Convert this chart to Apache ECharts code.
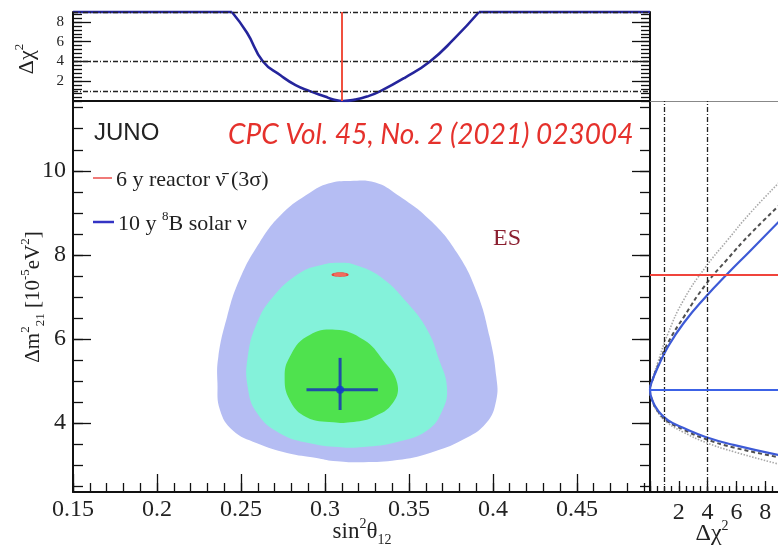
<!DOCTYPE html>
<html>
<head>
<meta charset="utf-8">
<script src="https://cdn.jsdelivr.net/npm/echarts@6/dist/echarts.min.js"></script>
<style>
  html, body { margin: 0; padding: 0; background: #fff; }
  #c { width: 778px; height: 552px; }
</style>
</head>
<body>
<div id="c"></div>
<script>
// ---- axis ranges and tick labels ----
const SIN_MIN = 0.15, SIN_MAX = 0.4935;   // sin^2(theta12)
const DM_MIN = 2.36, DM_MAX = 11.66;      // dm^2_21 [1e-5 eV^2]
const TOP_MAX = 9;                        // delta chi^2 (top panel)
const SIDE_MAX = 10;                      // delta chi^2 (side panel)

const sinTicks = [0.15, 0.2, 0.25, 0.3, 0.35, 0.4, 0.45];
const dmTicks = [4, 6, 8, 10];
const chi2TopTicks = [2, 4, 6, 8];
const chi2SideTicks = [2, 4, 6, 8];
const chi2TopLevels = [1, 4, 9];
const chi2SideLevels = [1, 4];

// ---- best fits ----
const reactorBest = [0.309, 7.53];        // 6 y reactor anti-nu
const reactorHalf = [0.0045, 0.05];       // half extent of its 3 sigma region
const solarBest = [0.309, 4.79];          // 10 y 8B solar nu
const solarSinBar = [0.289, 0.3315];
const solarDmBar = [4.31, 5.55];

// ---- delta chi^2 profile vs sin^2(theta12) ----
const sinProfile = [
  [0.2446, 9], [0.2536, 6.9], [0.2631, 4.0], [0.2735, 2.6], [0.2825, 1.6], [0.291, 1.0],
  [0.300, 0.45], [0.305, 0.15], [0.311, 0], [0.318, 0.14], [0.325, 0.45], [0.333, 1.0],
  [0.3475, 2.35], [0.3625, 4.0], [0.377, 6.3], [0.3917, 9]
];
// the profile runs along the top edge where it exceeds the frame
const sinProfileCapLeft = [[0.15, 9], [0.2446, 9]];
const sinProfileCapRight = [[0.3917, 9], [0.4935, 9]];

// ---- allowed regions (sin^2, dm^2) ----
const region3 = [
  [0.315, 9.76], [0.330, 9.72], [0.343, 9.43], [0.3625, 8.83], [0.3786, 8.05], [0.3905, 7.1],
  [0.398, 6.05], [0.402, 5.1], [0.402, 4.55], [0.396, 4.0], [0.382, 3.6], [0.3625, 3.29],
  [0.343, 3.12], [0.323, 3.07], [0.305, 3.1], [0.295, 3.17], [0.2774, 3.29], [0.2595, 3.52],
  [0.245, 3.83], [0.2375, 4.31], [0.236, 4.95], [0.2365, 5.57], [0.2417, 6.52], [0.249, 7.4],
  [0.261, 8.29], [0.275, 9.0], [0.291, 9.48], [0.302, 9.7]
];
const region2 = [
  [0.309, 7.81], [0.318, 7.76], [0.333, 7.48], [0.349, 6.86], [0.361, 6.21], [0.368, 5.5],
  [0.3726, 4.86], [0.370, 4.31], [0.361, 3.83], [0.343, 3.55], [0.323, 3.43], [0.311, 3.42],
  [0.291, 3.52], [0.273, 3.76], [0.2595, 4.24], [0.254, 4.86], [0.254, 5.57], [0.2595, 6.38],
  [0.269, 7.0], [0.285, 7.57], [0.298, 7.76]
];
const region1 = [
  [0.306, 6.22], [0.323, 5.98], [0.3345, 5.5], [0.343, 4.95], [0.3405, 4.48], [0.3286, 4.14],
  [0.315, 4.02], [0.305, 4.02], [0.289, 4.14], [0.279, 4.55], [0.276, 5.1], [0.279, 5.57],
  [0.289, 6.05]
];

// ---- delta chi^2 profiles vs dm^2 (side panel), [chi2, dm2] ----
const dmProfileSolid = [
  [9.2, 3.22], [5.8, 3.48], [3.86, 3.67], [2.34, 3.88], [1.24, 4.07], [0.55, 4.3], [0.15, 4.55],
  [0, 4.79], [0.15, 5.0], [0.55, 5.33], [1.24, 5.81], [2.34, 6.38], [3.86, 7.0], [5.38, 7.55],
  [6.97, 8.1], [9.2, 8.88]
];
const dmProfileDashed = [
  [9.2, 3.17], [5.8, 3.42], [3.86, 3.62], [2.34, 3.84], [1.24, 4.04], [0.55, 4.28], [0.15, 4.55],
  [0, 4.79], [0.15, 5.0], [0.55, 5.36], [1.24, 5.9], [2.34, 6.52], [3.86, 7.29], [5.38, 7.9],
  [6.97, 8.5], [9.2, 9.25]
];
const dmProfileDotted = [
  [9.2, 3.0], [5.8, 3.32], [3.86, 3.54], [2.34, 3.78], [1.24, 4.0], [0.55, 4.25], [0.15, 4.53],
  [0, 4.79], [0.15, 5.02], [0.55, 5.45], [1.24, 6.12], [2.34, 6.93], [3.86, 7.71], [5.38, 8.35],
  [6.97, 9.0], [9.2, 9.8]
];

// ---- styling ----
const SERIF = 'Liberation Serif';
const INK = '#111';
const NAVY = '#25259c';

function steps(a, b, s) {
  const out = [];
  for (let v = a; v <= b + 1e-9; v += s) out.push(+v.toFixed(4));
  return out;
}

function axis(o) {
  return {
    type: 'value', gridIndex: o.grid, min: o.min, max: o.max, position: o.pos,
    axisLine: { show: !!o.line, onZero: false, lineStyle: { color: o.lineColor || INK, width: o.line || 1 } },
    axisTick: { show: !!o.ticks, inside: true, length: o.tickLen || 0, customValues: o.ticks,
                lineStyle: { color: INK, width: 1.3 } },
    axisLabel: { show: !!o.labels, customValues: o.labels, margin: o.margin || 6,
                 fontFamily: SERIF, fontSize: o.labelSize || 24, color: '#222',
                 formatter: v => String(v) },
    splitLine: { show: false }, splitArea: { show: false }
  };
}

const chart = echarts.init(document.getElementById('c'));

function regionSeries(points, color) {
  return {
    type: 'custom', xAxisIndex: 1, yAxisIndex: 4, clip: true, silent: true, z: 2,
    data: [points[0]],
    renderItem: (params, api) => ({
      type: 'polygon',
      shape: { points: points.map(p => api.coord(p)), smooth: 0.45 },
      style: { fill: color }
    })
  };
}

function sideProfile(points, color, type, width) {
  return {
    type: 'line', xAxisIndex: 4, yAxisIndex: 8, data: points, showSymbol: false, symbol: 'none',
    smooth: 0.5, clip: true, z: 4,
    lineStyle: { color: color, type: type, width: width }
  };
}

function topSegment(points) {
  return {
    type: 'line', xAxisIndex: 0, yAxisIndex: 0, data: points, symbol: 'none', showSymbol: false,
    clip: false, z: 4, lineStyle: { color: NAVY, width: 2.6 }
  };
}

const dashStyle = { color: '#222', type: [5, 2, 1, 2], width: 1.3 };

const option = {
  animation: false,
  backgroundColor: '#fff',
  grid: [
    { left: 73, top: 12, width: 577, height: 89, containLabel: false, outerBoundsMode: 'none' },
    { left: 73, top: 101, width: 577, height: 391, containLabel: false, outerBoundsMode: 'none' },
    { left: 650, top: 101, width: 144, height: 391, containLabel: false, outerBoundsMode: 'none' }
  ],
  xAxis: [
    axis({ grid: 0, min: SIN_MIN, max: SIN_MAX, pos: 'bottom' }),
    axis({ grid: 1, min: SIN_MIN, max: SIN_MAX, pos: 'bottom', line: 2, ticks: sinTicks, tickLen: 18,
           labels: sinTicks, margin: 6 }),
    axis({ grid: 1, min: SIN_MIN, max: SIN_MAX, pos: 'bottom', ticks: steps(0.15, 0.49, 0.01), tickLen: 9 }),
    axis({ grid: 1, min: SIN_MIN, max: SIN_MAX, pos: 'top', line: 2 }),
    axis({ grid: 2, min: 0, max: SIDE_MAX, pos: 'bottom', line: 2, ticks: [0, 2, 4, 6, 8, 10], tickLen: 11,
           labels: chi2SideTicks, margin: 9 }),
    axis({ grid: 2, min: 0, max: SIDE_MAX, pos: 'bottom', ticks: steps(0, 10, 0.5), tickLen: 6 }),
    axis({ grid: 2, min: 0, max: SIDE_MAX, pos: 'top', line: 1, lineColor: '#888' })
  ],
  yAxis: [
    axis({ grid: 0, min: 0, max: TOP_MAX, pos: 'left', line: 2, ticks: chi2TopTicks, tickLen: 18,
           labels: chi2TopTicks, labelSize: 15, margin: 9 }),
    axis({ grid: 0, min: 0, max: TOP_MAX, pos: 'left', ticks: steps(0, 9, 0.4), tickLen: 9 }),
    axis({ grid: 0, min: 0, max: TOP_MAX, pos: 'right', line: 2, ticks: chi2TopTicks, tickLen: 18 }),
    axis({ grid: 0, min: 0, max: TOP_MAX, pos: 'right', ticks: steps(0, 9, 0.4), tickLen: 9 }),
    axis({ grid: 1, min: DM_MIN, max: DM_MAX, pos: 'left', line: 2, ticks: dmTicks, tickLen: 18,
           labels: dmTicks, margin: 7 }),
    axis({ grid: 1, min: DM_MIN, max: DM_MAX, pos: 'left', ticks: steps(2.5, 11.5, 0.5), tickLen: 10 }),
    axis({ grid: 1, min: DM_MIN, max: DM_MAX, pos: 'right', line: 2, ticks: dmTicks, tickLen: 18 }),
    axis({ grid: 1, min: DM_MIN, max: DM_MAX, pos: 'right', ticks: steps(2.5, 11.5, 0.5), tickLen: 10 }),
    axis({ grid: 2, min: DM_MIN, max: DM_MAX, pos: 'left' })
  ],
  series: [
    // top panel: chi2 profile in sin^2
    {
      type: 'line', xAxisIndex: 0, yAxisIndex: 0, data: sinProfile, symbol: 'none', showSymbol: false,
      smooth: 0.5, clip: true, z: 4,
      lineStyle: { color: NAVY, width: 2.6 },
      markLine: {
        silent: true, symbol: ['none', 'none'], label: { show: false },
        lineStyle: dashStyle,
        data: chi2TopLevels.map(v => ({ yAxis: v }))
          .concat([{ xAxis: reactorBest[0], lineStyle: { color: '#f0503f', type: 'solid', width: 2 } }])
      }
    },
    topSegment(sinProfileCapLeft),
    topSegment(sinProfileCapRight),
    // main panel: allowed regions
    regionSeries(region3, '#b5bdf3'),
    regionSeries(region2, '#84f2da'),
    regionSeries(region1, '#4fe24e'),
    // reactor 3 sigma region
    {
      type: 'custom', xAxisIndex: 1, yAxisIndex: 4, clip: true, silent: true, z: 5,
      data: [reactorBest],
      renderItem: (params, api) => {
        const c = api.coord(reactorBest);
        const s = api.size(reactorHalf);
        return {
          type: 'circle', x: c[0], y: c[1], scaleX: s[0] / s[1],
          shape: { cx: 0, cy: 0, r: s[1] },
          style: { fill: '#f26b5c', stroke: '#e8443a', lineWidth: 0.6 }
        };
      }
    },
    // solar best fit with 1 sigma bars
    {
      type: 'custom', xAxisIndex: 1, yAxisIndex: 4, clip: true, silent: true, z: 5,
      data: [solarBest],
      renderItem: (params, api) => {
        const h0 = api.coord([solarSinBar[0], solarBest[1]]);
        const h1 = api.coord([solarSinBar[1], solarBest[1]]);
        const v0 = api.coord([solarBest[0], solarDmBar[0]]);
        const v1 = api.coord([solarBest[0], solarDmBar[1]]);
        const st = { stroke: '#1f4fa6', lineWidth: 3 };
        return {
          type: 'group', children: [
            { type: 'line', shape: { x1: h0[0], y1: h0[1], x2: h1[0], y2: h1[1] }, style: st },
            { type: 'line', shape: { x1: v0[0], y1: v0[1], x2: v1[0], y2: v1[1] }, style: st }
          ]
        };
      }
    },
    {
      type: 'scatter', xAxisIndex: 1, yAxisIndex: 4, data: [solarBest], symbol: 'circle', symbolSize: 8,
      itemStyle: { color: '#1238d0' }, z: 6, silent: true
    },
    // side panel: chi2 profiles in dm^2
    sideProfile(dmProfileDotted, '#a8a8a8', [1.5, 1.5], 1.6),
    sideProfile(dmProfileDashed, '#505050', [4, 3], 2),
    Object.assign(sideProfile(dmProfileSolid, '#3d5ad6', 'solid', 2.2), {
      markLine: {
        silent: true, symbol: ['none', 'none'], label: { show: false },
        lineStyle: dashStyle,
        data: chi2SideLevels.map(v => ({ xAxis: v })).concat([
          { yAxis: reactorBest[1], lineStyle: { color: '#f0443c', type: 'solid', width: 2 } },
          { yAxis: solarBest[1], lineStyle: { color: '#3c62e6', type: 'solid', width: 2 } }
        ])
      }
    })
  ],
  graphic: [
    { type: 'text', x: 94, y: 133, z: 10,
      style: { text: 'JUNO', font: '24px "Liberation Sans"', fill: '#222', verticalAlign: 'middle' } },
    { type: 'text', x: 228, y: 135, z: 10,
      style: { text: 'CPC Vol. 45, No. 2 (2021) 023004', font: 'italic 28px Lato', fill: '#e5312c',
               verticalAlign: 'middle' } },
    { type: 'text', x: 507, y: 239, z: 10,
      style: { text: 'ES', font: '24px "Liberation Serif"', fill: '#8b1f30', align: 'center',
               verticalAlign: 'middle' } },
    // legend
    { type: 'line', z: 10, shape: { x1: 93, y1: 178, x2: 112, y2: 178 },
      style: { stroke: '#f07a78', lineWidth: 2 } },
    { type: 'text', x: 116, y: 180, z: 10,
      style: { text: '6 y reactor \u03bd\u0304 (3\u03c3)', font: '22px "Liberation Serif"', fill: '#222',
               verticalAlign: 'middle' } },
    { type: 'line', z: 10, shape: { x1: 93, y1: 222, x2: 114, y2: 222 },
      style: { stroke: '#3434c4', lineWidth: 2.5 } },
    { type: 'text', x: 118, y: 224, z: 10,
      style: { text: '{m|10 y }{sup|8}{m|B solar \u03bd}', verticalAlign: 'middle', fill: '#222',
               rich: {
                 m: { fontFamily: SERIF, fontSize: 22, lineHeight: 28, fill: '#222' },
                 sup: { fontFamily: SERIF, fontSize: 13, lineHeight: 15, verticalAlign: 'top', fill: '#222' }
               } } },
    // axis titles
    { type: 'text', x: 362, y: 532, z: 10,
      style: { text: '{m|sin}{sup|2}{m|\u03b8}{sub|12}', align: 'center', verticalAlign: 'middle',
               rich: {
                 m: { fontFamily: SERIF, fontSize: 23, lineHeight: 30, fill: '#222' },
                 sup: { fontFamily: SERIF, fontSize: 14, lineHeight: 16, verticalAlign: 'top', fill: '#222' },
                 sub: { fontFamily: SERIF, fontSize: 14, lineHeight: 14, verticalAlign: 'bottom', fill: '#222' }
               } } },
    { type: 'text', x: 712, y: 534, z: 10,
      style: { text: '{m|\u0394\u03c7}{sup|2}', align: 'center', verticalAlign: 'middle',
               rich: {
                 m: { fontFamily: SERIF, fontSize: 24, lineHeight: 30, fill: '#222' },
                 sup: { fontFamily: SERIF, fontSize: 14, lineHeight: 16, verticalAlign: 'top', fill: '#222' }
               } } },
    { type: 'text', x: 27, y: 59, z: 10, rotation: Math.PI / 2,
      style: { text: '{m|\u0394\u03c7}{sup|2}', align: 'center', verticalAlign: 'middle',
               rich: {
                 m: { fontFamily: SERIF, fontSize: 22, lineHeight: 28, fill: '#222' },
                 sup: { fontFamily: SERIF, fontSize: 13, lineHeight: 15, verticalAlign: 'top', fill: '#222' }
               } } },
    { type: 'text', x: 33, y: 297, z: 10, rotation: Math.PI / 2,
      style: { text: '{m|\u0394m}{sup|2}{sub|21}{m| [10}{sup|-5}{m|eV}{sup|2}{m|]}', align: 'center',
               verticalAlign: 'middle',
               rich: {
                 m: { fontFamily: SERIF, fontSize: 21, lineHeight: 28, fill: '#222' },
                 sup: { fontFamily: SERIF, fontSize: 13, lineHeight: 15, verticalAlign: 'top', fill: '#222' },
                 sub: { fontFamily: SERIF, fontSize: 13, lineHeight: 13, verticalAlign: 'bottom', fill: '#222' }
               } } }
  ]
};

chart.setOption(option);
</script>
</body>
</html>
